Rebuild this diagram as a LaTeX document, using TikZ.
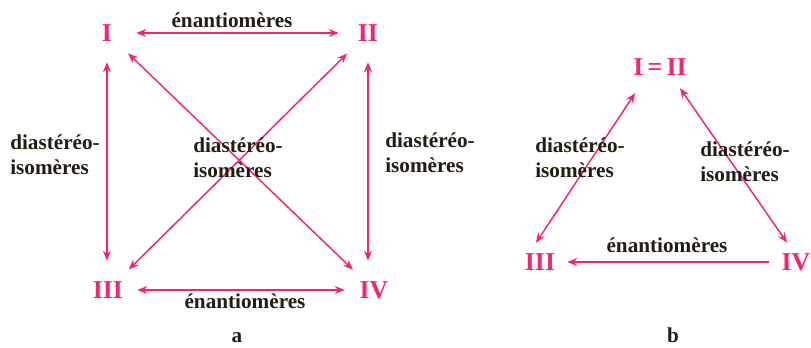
\documentclass[tikz,border=0pt]{standalone}
\usepackage{fontspec}
\setmainfont{Liberation Serif}
\usepackage{xcolor}
\usetikzlibrary{arrows.meta}
\definecolor{isorose}{RGB}{242,38,108}
\definecolor{isotext}{RGB}{35,28,18}

\begin{document}
\begin{tikzpicture}[x=0.75pt,y=-0.75pt,
  num/.style={shape=circle, inner sep=0pt, minimum size=43.5pt, text=isorose, font=\fontsize{19.3}{23}\selectfont\bfseries},
  numb/.style={inner sep=0pt, text=isorose, font=\fontsize{19.3}{23}\selectfont\bfseries},
  lab/.style={inner sep=0pt, text=isotext, align=left, font=\fontsize{15.9}{18.75}\selectfont\bfseries},
  arr/.style={isorose, line width=1.1pt, -{Stealth[length=7.5pt,width=6pt]}},
  darr/.style={isorose, line width=1.1pt, {Stealth[length=7.5pt,width=6pt]}-{Stealth[length=7.5pt,width=6pt]}}]
\useasboundingbox (0,0) rectangle (811,347);

\node[num] (I) at (107,33) {I};
\node[num] (II) at (368,33) {II};
\node[num] (III) at (108,290) {III};
\node[num] (IV) at (374,290) {IV};

\draw[darr] (I) -- (II);
\draw[darr] (III) -- (IV);
\draw[darr] (I.south) -- (I.south |- III.north);
\draw[darr] (II.south) -- (II.south |- IV.north);
\draw[darr] (I) -- (IV);
\draw[darr] (III) -- (II);

\node[lab, anchor=base] (enanA) at (232,27) {énantiomères};
\node[lab, anchor=base] (enanB) at (245,308) {énantiomères};
\node[lab, anchor=west] (diaL) at (10,155) {diastéréo-\\isomères};
\node[lab, anchor=west] (diaM) at (193,158) {diastéréo-\\isomères};
\node[lab, anchor=west] (diaR) at (385,153) {diastéréo-\\isomères};
\node[lab, anchor=base] (capa) at (237,342) {a};

\node[numb] (IeqII) at (660,67) {I\,=\,II};
\node[numb] (IIIb) at (540,262) {III};
\node[numb] (IVb) at (796,262) {IV};

\draw[darr] ([shift={(-3pt,7.9pt)}]IIIb.north) -- ([shift={(1.5pt,-13.1pt)}]IeqII.south west);
\draw[darr] ([shift={(15pt,-9.4pt)}]IeqII.south) -- ([shift={(-6.75pt,7.9pt)}]IVb.north);
\draw[arr, shorten <=9pt, shorten >=9pt] (IVb) -- (IIIb);

\node[lab, anchor=base] (enanC) at (667,252) {énantiomères};
\node[lab, anchor=west] (diaBL) at (535,158) {diastéréo-\\isomères};
\node[lab, anchor=west] (diaBR) at (700,162) {diastéréo-\\isomères};
\node[lab, anchor=base] (capb) at (673,342) {b};
\end{tikzpicture}
\end{document}
